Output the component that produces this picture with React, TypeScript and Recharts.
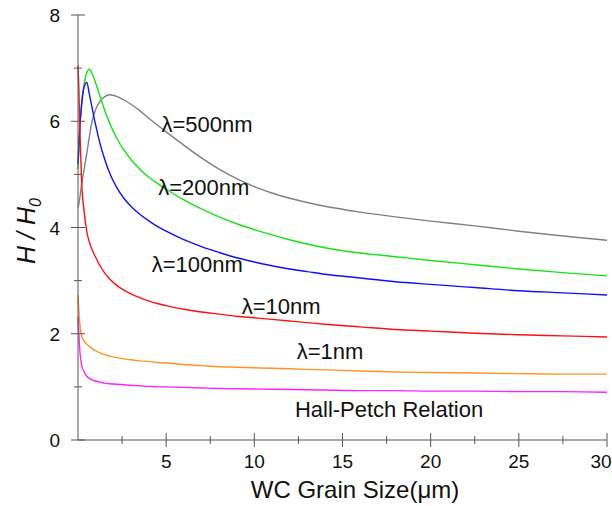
import {
  LineChart,
  Line,
  XAxis,
  YAxis,
  ReferenceDot,
} from "recharts";

// grain size (um) and H/H0 for each lambda curve
const grainSize = [
  0, 0.05, 0.1, 0.2, 0.35, 0.5, 0.65, 0.8, 1, 1.25, 1.5, 1.8, 2.2, 2.6, 3, 3.5,
  4, 4.5, 5, 6, 7, 8, 9, 10, 11, 12, 13, 14, 16, 18, 20, 22.5, 25, 27.5, 30,
];
const h500 = [
  4.38, 4.45, 4.55, 4.8, 5.1, 5.4, 5.72, 6.0, 6.22, 6.38, 6.46, 6.5, 6.47, 6.4,
  6.32, 6.2, 6.06, 5.93, 5.8, 5.55, 5.31, 5.1, 4.92, 4.77, 4.65, 4.55, 4.47,
  4.4, 4.29, 4.2, 4.12, 4.03, 3.93, 3.84, 3.76,
];
const h200 = [
  5.1, 5.6, 5.9, 6.3, 6.7, 6.92, 6.98, 6.9, 6.72, 6.47, 6.22, 5.96, 5.68, 5.46,
  5.28, 5.1, 4.95, 4.83, 4.72, 4.52, 4.35, 4.2, 4.07, 3.96, 3.86, 3.77, 3.69,
  3.62, 3.52, 3.45, 3.38, 3.3, 3.22, 3.15, 3.09,
];
const h100 = [
  5.2, 5.5, 5.85, 6.3, 6.65, 6.73, 6.5, 6.25, 5.93, 5.58, 5.3, 5.02, 4.75, 4.55,
  4.4, 4.25, 4.13, 4.02, 3.93, 3.77, 3.64, 3.53, 3.43, 3.35, 3.28, 3.22, 3.17,
  3.12, 3.05, 2.98, 2.93, 2.87, 2.81, 2.77, 2.73,
];
const h10 = [
  7.05, 6.6, 5.9, 4.9, 4.3, 3.92, 3.72, 3.58, 3.44, 3.28, 3.15, 3.03, 2.91, 2.82,
  2.75, 2.68, 2.62, 2.57, 2.53, 2.46, 2.41, 2.37, 2.33, 2.3, 2.27, 2.24, 2.21,
  2.18, 2.13, 2.08, 2.05, 2.01, 1.98, 1.96, 1.94,
];
const h1 = [
  2.73, 2.45, 2.2, 1.97, 1.86, 1.8, 1.76, 1.72, 1.68, 1.64, 1.61, 1.58, 1.55,
  1.53, 1.51, 1.49, 1.48, 1.46, 1.45, 1.42, 1.4, 1.38, 1.37, 1.36, 1.35, 1.34,
  1.33, 1.32, 1.3, 1.28, 1.27, 1.26, 1.25, 1.24, 1.24,
];
const hallPetch = [
  2.32, 2.0, 1.7, 1.42, 1.28, 1.2, 1.16, 1.13, 1.11, 1.09, 1.07, 1.06, 1.05,
  1.04, 1.03, 1.02, 1.01, 1.0, 1.0, 0.99, 0.98, 0.97, 0.965, 0.96, 0.955, 0.95,
  0.945, 0.94, 0.93, 0.93, 0.92, 0.92, 0.91, 0.91, 0.9,
];

const xTicks = [2.5, 5, 7.5, 10, 12.5, 15, 17.5, 20, 22.5, 25, 27.5, 30];
const yTicks = [0, 1, 2, 3, 4, 5, 6, 7, 8];

const annotations = [
  { text: "λ=500nm", x: 4.73, y: 5.93 },
  { text: "λ=200nm", x: 4.55, y: 4.76 },
  { text: "λ=100nm", x: 4.18, y: 3.3 },
  { text: "λ=10nm", x: 9.28, y: 2.51 },
  { text: "λ=1nm", x: 12.4, y: 1.66 },
  { text: "Hall-Petch Relation", x: 12.3, y: 0.58 },
];

const data = grainSize.map((x, i) => ({
  x,
  l500: h500[i],
  l200: h200[i],
  l100: h100[i],
  l10: h10[i],
  l1: h1[i],
  hp: hallPetch[i],
}));

const font = "'Liberation Sans', Arial, sans-serif";
const axisColor = "#555";

const XTick = (props: any) => {
  const { x, y, payload } = props;
  const major = payload.value % 5 === 0;
  const len = major ? 7 : 4;
  // last label sits on the right edge, nudge it in a little
  const tx = payload.value === 30 ? x - 6 : x;
  return (
    <g>
      <line x1={x} x2={x} y1={y - len} y2={y + len} stroke={axisColor} />
      {major && (
        <text
          x={tx}
          y={y + 28}
          textAnchor="middle"
          fontSize={19}
          fontFamily={font}
          fill="#111"
        >
          {payload.value}
        </text>
      )}
    </g>
  );
};

const YTick = (props: any) => {
  const { x, y, payload } = props;
  const major = payload.value % 2 === 0;
  const len = major ? 7 : 4;
  return (
    <g>
      <line x1={x - len} x2={x + len} y1={y} y2={y} stroke={axisColor} />
      {major && (
        <text
          x={x - 18}
          y={y + 7}
          textAnchor="end"
          fontSize={19}
          fontFamily={font}
          fill="#111"
        >
          {payload.value}
        </text>
      )}
    </g>
  );
};

const series = [
  { key: "l500", color: "#808080" },
  { key: "l200", color: "#11e611" },
  { key: "l100", color: "#1010ff" },
  { key: "l10", color: "#ff1010" },
  { key: "l1", color: "#ff9326" },
  { key: "hp", color: "#ff22ff" },
];

const App = () => {
  return (
    <div style={{ position: "absolute", left: 0, top: 0, background: "#fff" }}>
      <LineChart
        width={612}
        height={506}
        data={data}
        margin={{ top: 15, right: 5, bottom: 0, left: 0 }}
      >
        <XAxis
          dataKey="x"
          type="number"
          domain={[0, 30]}
          ticks={xTicks}
          tick={<XTick />}
          tickLine={false}
          tickSize={0}
          tickMargin={0}
          stroke={axisColor}
          height={66}
          interval={0}
        />
        <XAxis
          xAxisId="top"
          orientation="top"
          dataKey="x"
          type="number"
          domain={[0, 30]}
          tick={false}
          tickLine={false}
          height={0}
          stroke="#999"
        />
        <YAxis
          type="number"
          domain={[0, 8]}
          ticks={yTicks}
          tick={<YTick />}
          tickLine={false}
          tickSize={0}
          tickMargin={0}
          stroke={axisColor}
          width={78}
          interval={0}
        />
        <YAxis
          yAxisId="right"
          orientation="right"
          type="number"
          domain={[0, 8]}
          tick={false}
          tickLine={false}
          width={0}
          stroke="#999"
        />
        {series.map((s) => (
          <Line
            key={s.key}
            dataKey={s.key}
            type="monotone"
            stroke={s.color}
            strokeWidth={1.4}
            dot={false}
            isAnimationActive={false}
          />
        ))}
        {annotations.map((a) => (
          <ReferenceDot
            key={a.text}
            x={a.x}
            y={a.y}
            r={0}
            shape={(p: any) => (
              <text
                x={p.cx}
                y={p.cy}
                dominantBaseline="central"
                fontSize={22}
                fontFamily={font}
                fill="#111"
              >
                {a.text}
              </text>
            )}
          />
        ))}
        <text
          x={355}
          y={498}
          textAnchor="middle"
          fontSize={24}
          fontFamily={font}
          fill="#111"
        >
          WC Grain Size(μm)
        </text>
        <text
          transform="translate(35,231) rotate(-90)"
          textAnchor="middle"
          fontSize={25}
          fontStyle="italic"
          fontFamily={font}
          fill="#111"
        >
          H / H<tspan fontSize={16} dy={6}>0</tspan>
        </text>
      </LineChart>
    </div>
  );
};

export default App;
